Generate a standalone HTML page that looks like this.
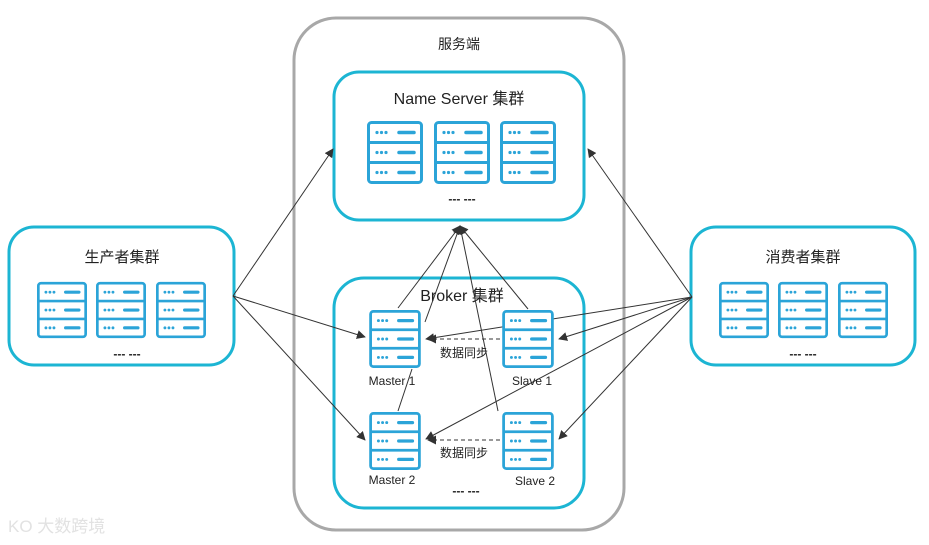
<!DOCTYPE html>
<html><head><meta charset="utf-8"><style>
html,body{margin:0;padding:0;background:#fff;}
svg{display:block;}
text{font-family:"Liberation Sans","Noto Sans CJK SC",sans-serif;fill:#222;}
</style></head><body>
<svg width="929" height="545" viewBox="0 0 929 545" xmlns="http://www.w3.org/2000/svg">
<defs>
<symbol id="srv" viewBox="0 0 56 63">
<rect x="1.5" y="1.5" width="53" height="60" rx="3" fill="#fff" stroke="#2ba4d8" stroke-width="3"/>
<line x1="1.5" y1="21.5" x2="54.5" y2="21.5" stroke="#2ba4d8" stroke-width="3"/>
<line x1="1.5" y1="41.5" x2="54.5" y2="41.5" stroke="#2ba4d8" stroke-width="3"/>
<g fill="#2ba4d8">
<circle cx="10" cy="11.5" r="1.6"/><circle cx="14.5" cy="11.5" r="1.6"/><circle cx="19" cy="11.5" r="1.6"/>
<circle cx="10" cy="31.5" r="1.6"/><circle cx="14.5" cy="31.5" r="1.6"/><circle cx="19" cy="31.5" r="1.6"/>
<circle cx="10" cy="51.5" r="1.6"/><circle cx="14.5" cy="51.5" r="1.6"/><circle cx="19" cy="51.5" r="1.6"/>
</g>
<g stroke="#2ba4d8" stroke-width="3.5" stroke-linecap="round">
<line x1="32" y1="11.5" x2="47" y2="11.5"/><line x1="32" y1="31.5" x2="47" y2="31.5"/><line x1="32" y1="51.5" x2="47" y2="51.5"/>
</g>
</symbol>
<marker id="ar" viewBox="0 0 10 10" refX="9" refY="5" markerWidth="9" markerHeight="9" orient="auto" markerUnits="userSpaceOnUse">
<path d="M0,0 L10,5 L0,10 z" fill="#333"/>
</marker>
</defs>

<!-- server outer -->
<rect x="294" y="18" width="330" height="512" rx="42" fill="#fff" stroke="#a8a8a8" stroke-width="3"/>
<text x="459" y="49" font-size="14" text-anchor="middle">服务端</text>

<!-- boxes -->
<rect x="334" y="72" width="250" height="148" rx="25" fill="#fff" stroke="#1cb5d3" stroke-width="3"/>
<rect x="334" y="278" width="250" height="230" rx="30" fill="#fff" stroke="#1cb5d3" stroke-width="3"/>
<rect x="9" y="227" width="225" height="138" rx="25" fill="#fff" stroke="#1cb5d3" stroke-width="3"/>
<rect x="691" y="227" width="224" height="138" rx="25" fill="#fff" stroke="#1cb5d3" stroke-width="3"/>

<text x="459" y="104" font-size="16" text-anchor="middle">Name Server 集群</text>
<text x="462" y="301" font-size="16" text-anchor="middle">Broker 集群</text>
<text x="122" y="262" font-size="15" text-anchor="middle">生产者集群</text>
<text x="803" y="262" font-size="15" text-anchor="middle">消费者集群</text>

<!-- icons -->
<use href="#srv" x="367" y="121" width="56" height="63"/>
<use href="#srv" x="434" y="121" width="56" height="63"/>
<use href="#srv" x="500" y="121" width="56" height="63"/>
<use href="#srv" x="37" y="280" width="50" height="60"/>
<use href="#srv" x="96" y="280" width="50" height="60"/>
<use href="#srv" x="156" y="280" width="50" height="60"/>
<use href="#srv" x="719" y="280" width="50" height="60"/>
<use href="#srv" x="778" y="280" width="50" height="60"/>
<use href="#srv" x="838" y="280" width="50" height="60"/>

<!-- ellipses -->
<g font-size="12" font-weight="bold" text-anchor="middle">
<text x="462" y="203">--- ---</text>
<text x="127" y="358">--- ---</text>
<text x="803" y="358">--- ---</text>
<text x="466" y="495">--- ---</text>
</g>

<!-- lines -->
<g stroke="#333" stroke-width="1" fill="none">
<line x1="233" y1="296" x2="333" y2="149" marker-end="url(#ar)"/>
<line x1="233" y1="296" x2="365" y2="337" marker-end="url(#ar)"/>
<line x1="233" y1="296" x2="365" y2="440" marker-end="url(#ar)"/>
<line x1="692" y1="297" x2="588" y2="149" marker-end="url(#ar)"/>
<line x1="692" y1="297" x2="426" y2="339" marker-end="url(#ar)"/>
<line x1="692" y1="297" x2="559" y2="339" marker-end="url(#ar)"/>
<line x1="692" y1="297" x2="426" y2="439" marker-end="url(#ar)"/>
<line x1="692" y1="297" x2="559" y2="439" marker-end="url(#ar)"/>
<line x1="398" y1="308" x2="460" y2="226" marker-end="url(#ar)"/>
<line x1="425" y1="322" x2="460" y2="226" marker-end="url(#ar)"/>
<line x1="528" y1="309" x2="460" y2="226" marker-end="url(#ar)"/>
<line x1="498" y1="411" x2="460" y2="226" marker-end="url(#ar)"/>
<line x1="398" y1="411" x2="412" y2="369"/>
<line x1="500" y1="339" x2="428" y2="339" stroke-dasharray="4,3" marker-end="url(#ar)"/>
<line x1="500" y1="440" x2="428" y2="440" stroke-dasharray="4,3" marker-end="url(#ar)"/>
</g>

<!-- broker icons -->
<use href="#srv" x="367" y="310" width="56" height="58"/>
<use href="#srv" x="500" y="310" width="56" height="58"/>
<use href="#srv" x="367" y="412" width="56" height="58"/>
<use href="#srv" x="500" y="412" width="56" height="58"/>

<g font-size="12" text-anchor="middle">
<text x="392" y="385">Master 1</text>
<text x="532" y="385">Slave 1</text>
<text x="392" y="484">Master 2</text>
<text x="535" y="485">Slave 2</text>
<text x="464" y="357">数据同步</text>
<text x="464" y="457">数据同步</text>
</g>

<text x="8" y="532" font-size="17" fill="#e4e4e4" style="fill:#e2e2e2">KO 大数跨境</text>
</svg>
</body></html>
